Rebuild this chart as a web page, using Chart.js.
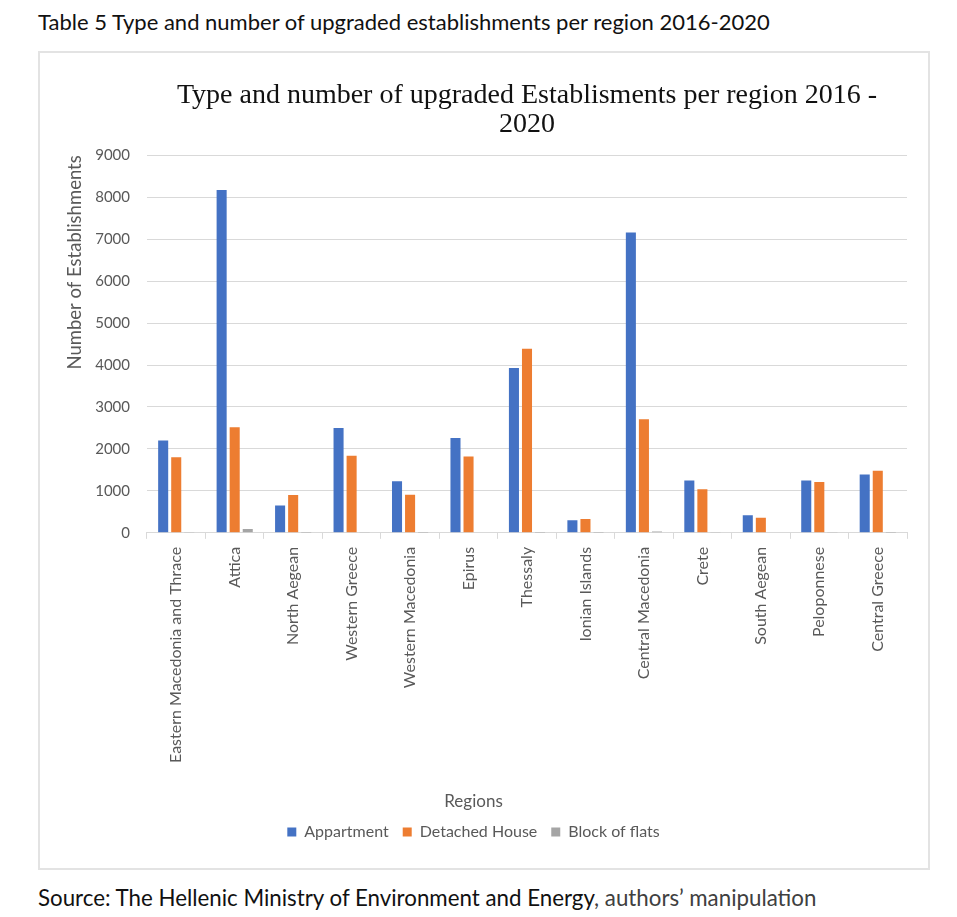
<!DOCTYPE html>
<html>
<head>
<meta charset="utf-8">
<script src="https://cdn.jsdelivr.net/npm/chart.js@4"></script>
<style>
  body { margin: 0; background: #fff; width: 957px; height: 917px; position: relative; font-family: Lato, "Open Sans", sans-serif; }
  .caption { position: absolute; left: 38px; top: 8px; font-size: 22px; color: #111; }
  .frame { position: absolute; left: 38px; top: 51px; width: 892px; height: 819px; box-sizing: border-box; border: 2px solid #e3e3e3; }
  .frame canvas { display: block; }
  .source { position: absolute; left: 38px; top: 884px; font-size: 22.3px; color: #111; }
  .source span { color: #404040; }
</style>
</head>
<body>
<div class="caption">Table 5 Type and number of upgraded establishments per region 2016-2020</div>
<div class="frame"><canvas id="myChart" width="888" height="815"></canvas></div>
<div class="source">Source: The Hellenic Ministry of Environment and Energy<span>, authors’ manipulation</span></div>
<script>
document.addEventListener('DOMContentLoaded', function () {
    const regions = ['Eastern Macedonia and Thrace', 'Attica', 'North Aegean', 'Western Greece',
        'Western Macedonia', 'Epirus', 'Thessaly', 'Ionian Islands', 'Central Macedonia',
        'Crete', 'South Aegean', 'Peloponnese', 'Central Greece'];
    const appartment = [2200, 8170, 650, 2500, 1230, 2260, 3930, 300, 7160, 1250, 420, 1250, 1390];
    const detachedHouse = [1800, 2520, 900, 1840, 910, 1820, 4390, 330, 2710, 1040, 360, 1210, 1480];
    const blockOfFlats = [10, 90, 5, 10, 5, 15, 5, 5, 30, 10, 15, 10, 5];

    const grey = '#595959';

    const dataChart = {
        labels: regions,
        datasets: [{
            label: 'Appartment',
            data: appartment,
            backgroundColor: '#4472C4'
        }, {
            label: 'Detached House',
            data: detachedHouse,
            backgroundColor: '#ED7D31'
        }, {
            label: 'Block of flats',
            data: blockOfFlats,
            backgroundColor: '#A5A5A5'
        }]
    };

    const configChart = {
        type: 'bar',
        data: dataChart,
        options: {
            responsive: false,
            animation: false,
            categoryPercentage: 0.67,
            barPercentage: 0.77,
            layout: { padding: { left: 0, right: 21, top: 0, bottom: 18 } },
            plugins: {
                tooltip: { enabled: false },
                title: {
                    display: true,
                    fullSize: false,
                    text: ['Type and number of upgraded Establisments per region 2016 -', '2020'],
                    color: '#111',
                    font: { family: '"Liberation Serif", "Times New Roman", serif', size: 28, weight: 'normal', lineHeight: 1.04 },
                    padding: { top: 28, bottom: 16 }
                },
                legend: {
                    position: 'bottom',
                    labels: {
                        boxWidth: 9,
                        boxHeight: 9,
                        padding: 14,
                        color: grey,
                        font: { family: 'Lato', size: 16 }
                    },
                    title: {
                        display: true,
                        text: 'Regions',
                        color: grey,
                        font: { family: 'Lato', size: 17, lineHeight: 1 },
                        padding: { top: 22, bottom: 0 }
                    }
                }
            },
            scales: {
                x: {
                    grid: { display: true, drawOnChartArea: false, color: '#d9d9d9', tickLength: 6 },
                    border: { color: '#d9d9d9' },
                    ticks: {
                        minRotation: 90,
                        maxRotation: 90,
                        autoSkip: false,
                        color: grey,
                        font: { family: 'Lato', size: 16 },
                        padding: 8
                    }
                },
                y: {
                    min: 0,
                    max: 9000,
                    ticks: {
                        stepSize: 1000,
                        format: { useGrouping: false },
                        color: grey,
                        font: { family: 'Lato', size: 15 },
                        padding: 17
                    },
                    grid: { color: '#d9d9d9', drawTicks: false },
                    border: { display: false },
                    title: {
                        display: true,
                        text: 'Number of Establishments',
                        align: 'end',
                        color: grey,
                        font: { family: 'Lato', size: 18.5 },
                        padding: { top: 24, bottom: -8 }
                    }
                }
            }
        }
    };

    let chart = new Chart(document.getElementById('myChart').getContext('2d'), configChart);
});
</script>
</body>
</html>
